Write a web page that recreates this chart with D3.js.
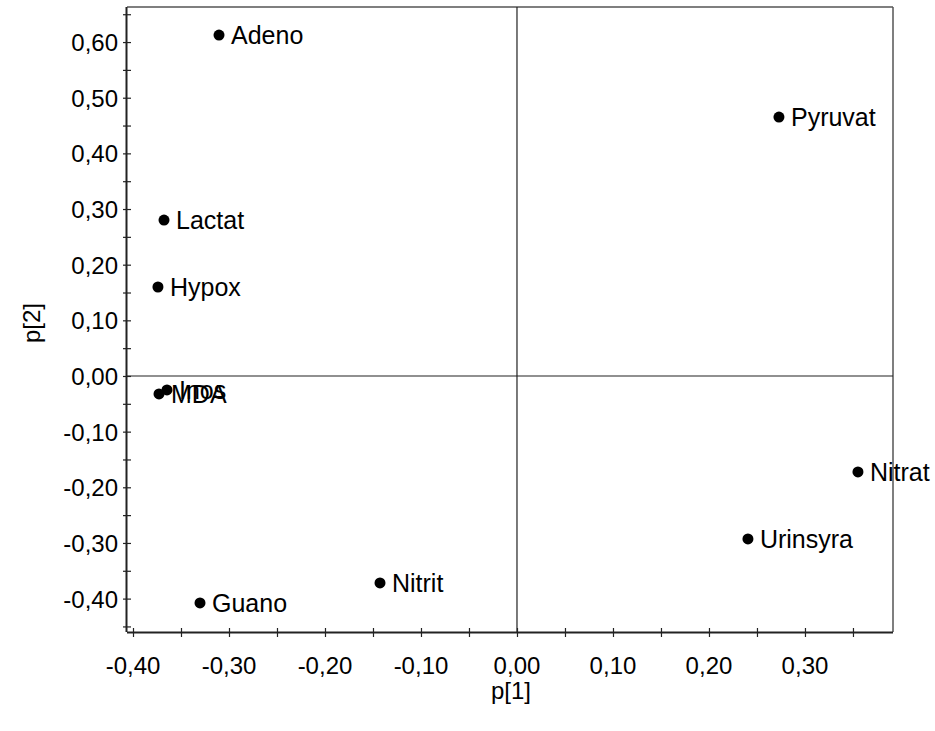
<!DOCTYPE html>
<html><head><meta charset="utf-8">
<script src="https://cdn.jsdelivr.net/npm/d3@7"></script>
<style>body{margin:0;background:#fff}svg{display:block}text{font-family:"Liberation Sans",Arial,sans-serif;fill:#000}</style>
</head><body>
<svg id="c" width="935" height="731"></svg>
<script>
const names = ["Adeno","Pyruvat","Lactat","Hypox","Inos","MDA","Nitrat","Urinsyra","Nitrit","Guano"];
const p1 = [-0.3104, 0.2729, -0.3677, -0.3740, -0.3646, -0.3729, 0.3552, 0.2406, -0.1427, -0.3302];
const p2 = [0.6125, 0.4652, 0.2802, 0.1599, -0.0250, -0.0323, -0.1724, -0.2928, -0.3718, -0.4078];
const xTicks = [-0.40,-0.30,-0.20,-0.10,0.00,0.10,0.20,0.30];
const yTicks = [-0.40,-0.30,-0.20,-0.10,0.00,0.10,0.20,0.30,0.40,0.50,0.60];
const xMinor = [-0.35,-0.25,-0.15,-0.05,0.05,0.15,0.25,0.35];
const yMinor = [-0.45,-0.35,-0.25,-0.15,-0.05,0.05,0.15,0.25,0.35,0.45,0.55,0.65];

const L=127,R=893,T=7,B=632,FS=24,FL=25;
const svg=d3.select("#c");
const x=d3.scaleLinear().domain([-0.40625,0.3917]).range([L,R]);
const y=d3.scaleLinear().domain([-0.46,0.663]).range([B,T]);
const fmt=v=>d3.format(".2f")(v).replace("−","-").replace(".",",");

// frame top/right
svg.append("line").attr("x1",L).attr("x2",R).attr("y1",T).attr("y2",T).attr("stroke","#555").attr("stroke-width",1.5);
svg.append("line").attr("x1",R).attr("x2",R).attr("y1",T).attr("y2",B).attr("stroke","#555").attr("stroke-width",1.5);
// zero lines
svg.append("line").attr("x1",L).attr("x2",R).attr("y1",y(0)).attr("y2",y(0)).attr("stroke","#222").attr("stroke-width",1.2);
svg.append("line").attr("x1",x(0)).attr("x2",x(0)).attr("y1",T).attr("y2",B).attr("stroke","#222").attr("stroke-width",1.2);

// x axis
const xa=svg.append("g").attr("transform",`translate(0,${B})`)
  .call(d3.axisBottom(x).tickValues(xTicks.concat(xMinor)).tickSize(5).tickSizeOuter(0).tickFormat(()=>""));
xa.select(".domain").attr("stroke","#222").attr("stroke-width",2).attr("d",`M${L},0.5H${R}`);
xa.selectAll(".tick line").attr("y1",-4).attr("stroke","#222").attr("stroke-width",1.2);
svg.append("g").selectAll("text").data(xTicks).join("text")
  .attr("x",d=>x(d)).attr("y",674).attr("text-anchor","middle").attr("font-size",FS).text(fmt);

// y axis
const ya=svg.append("g").attr("transform",`translate(${L},0)`)
  .call(d3.axisLeft(y).tickValues(yTicks.concat(yMinor)).tickSize(4).tickSizeOuter(0).tickFormat(()=>""));
ya.select(".domain").attr("stroke","#222").attr("stroke-width",2).attr("d",`M-0.5,${T}V${B}`);
ya.selectAll(".tick line").attr("x1",4).attr("x2",-4).attr("stroke","#222").attr("stroke-width",1.2);
svg.append("g").selectAll("text").data(yTicks).join("text")
  .attr("x",118).attr("y",d=>y(d)+9).attr("text-anchor","end").attr("font-size",FS).text(fmt);

// titles
svg.append("text").attr("x",511).attr("y",699).attr("text-anchor","middle").attr("font-size",FS).text("p[1]");
svg.append("text").attr("transform","translate(40,323) rotate(-90)").attr("text-anchor","middle").attr("font-size",FS).text("p[2]");

// points
const pts=names.map((n,i)=>({n,x:p1[i],y:p2[i]}));
svg.append("g").selectAll("circle").data(pts).join("circle")
  .attr("cx",d=>x(d.x)).attr("cy",d=>y(d.y)).attr("r",5.5).attr("fill","#000");
svg.append("g").selectAll("text").data(pts).join("text")
  .attr("x",d=>x(d.x)+12).attr("y",d=>y(d.y)+9).attr("font-size",FL).text(d=>d.n);
</script>
</body></html>
